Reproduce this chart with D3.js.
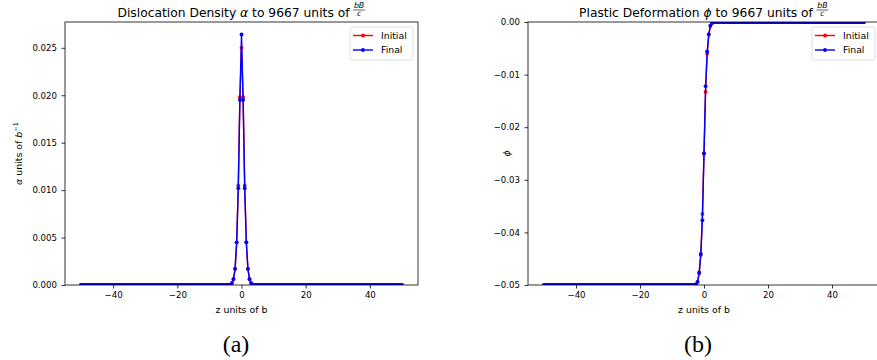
<!DOCTYPE html>
<meta charset="utf-8">
<script src="https://d3js.org/d3.v7.min.js"></script>
<style>
  body { margin: 0; background: #fff; }
  text { font-family: "DejaVu Sans", sans-serif; fill: #000; }
</style>
<div id="chart"></div>
<script>
// z grid step 0.5 from -50 to 50; only the core around 0 differs from the tails
var zMin = -50, zMax = 50, zStep = 0.5;
var zCore = [-3, -2.5, -2, -1.5, -1, -0.5, 0, 0.5, 1, 1.5, 2, 2.5, 3];

// dislocation density alpha
var alphaInitialCore = [0.0002, 0.0006, 0.0017, 0.0045, 0.0105, 0.0198, 0.0250, 0.0198, 0.0105, 0.0045, 0.0017, 0.0006, 0.0002];
var alphaFinalCore   = [0.0002, 0.00063, 0.0017, 0.0045, 0.0102, 0.0195, 0.0264, 0.0195, 0.0102, 0.0045, 0.0017, 0.00063, 0.0002];
var alphaTail = [0, 0];          // value left of core, right of core

// plastic deformation phi
var phiInitialCore = [-0.0500, -0.0499, -0.0494, -0.0478, -0.0443, -0.0365, -0.0250, -0.0133, -0.0060, -0.0023, -0.0007, -0.0002, 0.0000];
var phiFinalCore   = [-0.0500, -0.0499, -0.0494, -0.0476, -0.0441, -0.0377, -0.0250, -0.0122, -0.0056, -0.0024, -0.0007, -0.0002, 0.0000];
var phiTail = [-0.05, 0];

var xTicks = [-40, -20, 0, 20, 40];
var alphaTicks = [0, 0.005, 0.010, 0.015, 0.020, 0.025];
var phiTicks = [-0.05, -0.04, -0.03, -0.02, -0.01, 0.00];

var zGrid = d3.range(Math.round((zMax - zMin) / zStep) + 1).map(i => zMin + i * zStep);

function fullSeries(core, tail) {
  return zGrid.map(function(z) {
    var k = zCore.indexOf(z);
    var v = k >= 0 ? core[k] : (z < 0 ? tail[0] : tail[1]);
    return {z: z, v: v};
  });
}

var W = 877, H = 360;
var svg = d3.select("#chart").append("svg")
  .attr("width", W).attr("height", H);

function panel(opts) {
  var x = d3.scaleLinear().domain([-55, 55]).range([opts.x0, opts.x1]);
  var y = d3.scaleLinear().domain(opts.yDomain).range([opts.y1, opts.y0]);
  var g = svg.append("g");

  g.append("clipPath").attr("id", opts.id)
    .append("rect")
    .attr("x", opts.x0).attr("y", opts.y0)
    .attr("width", opts.x1 - opts.x0).attr("height", opts.y1 - opts.y0);

  var line = d3.line().x(d => x(d.z)).y(d => y(d.v));
  var plot = g.append("g").attr("clip-path", "url(#" + opts.id + ")");
  opts.series.forEach(function(s) {
    plot.append("path").datum(s.data)
      .attr("fill", "none").attr("stroke", s.color)
      .attr("stroke-width", 1.4).attr("d", line);
    plot.append("g").selectAll("circle").data(s.data).enter()
      .append("circle")
      .attr("cx", d => x(d.z)).attr("cy", d => y(d.v))
      .attr("r", 1.9).attr("fill", s.color);
  });

  // axes
  var ax = g.append("g").attr("transform", "translate(0," + opts.y1 + ")")
    .call(d3.axisBottom(x).tickValues(xTicks).tickSize(3.5).tickPadding(3));
  var ay = g.append("g").attr("transform", "translate(" + opts.x0 + ",0)")
    .call(d3.axisLeft(y).tickValues(opts.yTicks).tickFormat(d3.format(opts.yFmt)).tickSize(3.5).tickPadding(4.5));
  [ax, ay].forEach(function(a) {
    a.select(".domain").remove();
    a.selectAll("line").attr("stroke", "#000").attr("stroke-width", 0.8);
    a.selectAll("text").style("font-size", "8.6px").style("font-family", "DejaVu Sans").attr("fill", "#000");
  });

  // spines
  g.append("rect")
    .attr("x", opts.x0).attr("y", opts.y0)
    .attr("width", opts.x1 - opts.x0).attr("height", opts.y1 - opts.y0)
    .attr("fill", "none").attr("stroke", "#000").attr("stroke-width", 0.8);

  // x label
  g.append("text")
    .attr("x", (opts.x0 + opts.x1) / 2).attr("y", 313)
    .attr("text-anchor", "middle").style("font-size", "9.4px")
    .text("z units of b");

  // y label
  var yl = g.append("text")
    .attr("transform", "translate(" + opts.yLabelX + "," + ((opts.y0 + opts.y1) / 2) + ") rotate(-90)")
    .attr("text-anchor", "middle").style("font-size", "9.4px");
  opts.yLabel(yl);

  // title with fraction bB/c
  var cx = (opts.x0 + opts.x1) / 2;
  var t = g.append("text").attr("y", 16.5).style("font-size", "12.3px");
  opts.title(t);
  var tw = t.node().getComputedTextLength();
  var fw = 13;
  var start = cx - (tw + fw + 3) / 2;
  t.attr("x", start);
  var fx = start + tw + 3 + fw / 2;
  g.append("text").attr("x", fx).attr("y", 8.3).attr("text-anchor", "middle")
    .style("font-size", "7.8px").style("font-style", "italic").text("bB");
  g.append("line").attr("x1", fx - fw / 2 + 0.5).attr("x2", fx + fw / 2 - 0.5)
    .attr("y1", 10).attr("y2", 10).attr("stroke", "#000").attr("stroke-width", 0.6);
  g.append("text").attr("x", fx).attr("y", 16.3).attr("text-anchor", "middle")
    .style("font-size", "7.8px").style("font-style", "italic").text("c");

  // legend
  var lg = g.append("g");
  lg.append("rect")
    .attr("x", opts.legX).attr("y", 27).attr("width", 63).attr("height", 33)
    .attr("rx", 2.5).attr("fill", "#fff").attr("fill-opacity", 0.8)
    .attr("stroke", "#d6d6d6").attr("stroke-width", 0.8);
  opts.series.forEach(function(s, i) {
    var yy = 35.5 + i * 14.5;
    lg.append("line")
      .attr("x1", opts.legX + 3).attr("x2", opts.legX + 23)
      .attr("y1", yy).attr("y2", yy)
      .attr("stroke", s.color).attr("stroke-width", 1.4);
    lg.append("circle").attr("cx", opts.legX + 13).attr("cy", yy).attr("r", 1.9).attr("fill", s.color);
    lg.append("text").attr("x", opts.legX + 31).attr("y", yy + 3.3)
      .style("font-size", "9.3px").text(s.name);
  });

  // caption
  svg.append("text")
    .attr("x", opts.capX).attr("y", 352)
    .attr("text-anchor", "middle")
    .style("font-family", "Liberation Serif, DejaVu Serif, serif")
    .style("font-size", "24px")
    .text(opts.caption);
}

panel({
  id: "clipA", x0: 65, x1: 418, y0: 22, y1: 285,
  yDomain: [0, 0.02772], yTicks: alphaTicks, yFmt: ".3f",
  series: [
    {name: "Initial", color: "#ff0000", data: fullSeries(alphaInitialCore, alphaTail)},
    {name: "Final", color: "#0000ff", data: fullSeries(alphaFinalCore, alphaTail)}
  ],
  yLabelX: 22,
  yLabel: function(t) {
    t.append("tspan").style("font-style", "italic").text("α");
    t.append("tspan").text(" units of ");
    t.append("tspan").style("font-style", "italic").text("b");
    t.append("tspan").attr("dy", -4).style("font-size", "6.6px").text("−1");
  },
  title: function(t) {
    t.append("tspan").text("Dislocation Density ");
    t.append("tspan").style("font-style", "italic").text("α");
    t.append("tspan").text(" to 9667 units of");
  },
  legX: 350, capX: 236, caption: "(a)"
});

panel({
  id: "clipB", x0: 528, x1: 880, y0: 22, y1: 285,
  yDomain: [-0.05, 0], yTicks: phiTicks, yFmt: ".2f",
  series: [
    {name: "Initial", color: "#ff0000", data: fullSeries(phiInitialCore, phiTail)},
    {name: "Final", color: "#0000ff", data: fullSeries(phiFinalCore, phiTail)}
  ],
  yLabelX: 510,
  yLabel: function(t) {
    t.append("tspan").style("font-style", "italic").text("ϕ");
  },
  title: function(t) {
    t.append("tspan").text("Plastic Deformation ");
    t.append("tspan").style("font-style", "italic").text("ϕ");
    t.append("tspan").text(" to 9667 units of");
  },
  legX: 812, capX: 698, caption: "(b)"
});
</script>
